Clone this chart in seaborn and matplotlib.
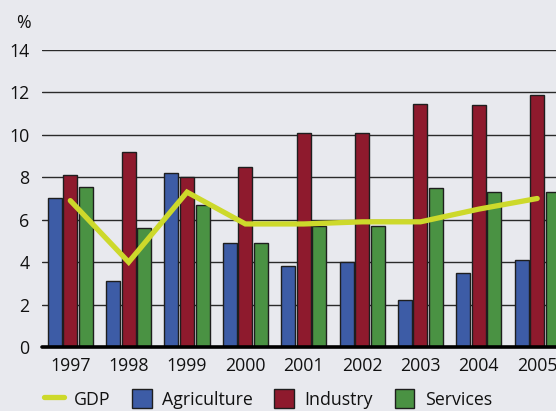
import numpy as np
import pandas as pd
import matplotlib
matplotlib.use("Agg")
import matplotlib.pyplot as plt
import seaborn as sns
from matplotlib.patches import Patch
from matplotlib.lines import Line2D

years = ["1997", "1998", "1999", "2000", "2001", "2002", "2003", "2004", "2005"]
agriculture = [7.0, 3.1, 8.2, 4.9, 3.8, 4.0, 2.2, 3.5, 4.1]
industry = [8.1, 9.2, 8.0, 8.5, 10.1, 10.1, 11.45, 11.4, 11.9]
services = [7.55, 5.6, 6.7, 4.9, 5.7, 5.7, 7.5, 7.3, 7.3]
gdp = [6.9, 4.0, 7.3, 5.8, 5.8, 5.9, 5.9, 6.5, 7.0]
sectors = ["Agriculture", "Industry", "Services"]
yticks = [0, 2, 4, 6, 8, 10, 12, 14]

bg = "#e8e9ee"
colors = {"Agriculture": "#3d5ca6", "Industry": "#8e1a2d", "Services": "#4a9243"}
gdp_color = "#cdd92b"

sns.set_theme(style="white")
plt.rcParams["font.family"] = ["Open Sans", "DejaVu Sans"]

df = pd.DataFrame({
    "year": years * 3,
    "sector": ["Agriculture"] * 9 + ["Industry"] * 9 + ["Services"] * 9,
    "value": agriculture + industry + services,
})

fig = plt.figure(figsize=(5.56, 4.11), dpi=100)
fig.patch.set_facecolor(bg)
ax = fig.add_axes([42 / 556, 64 / 411, 523.5 / 556, 297 / 411])
ax.set_facecolor(bg)

for y in yticks[1:]:
    ax.axhline(y, color="#2a2a2a", lw=1.0, zorder=0)

sns.barplot(data=df, x="year", y="value", hue="sector", order=years,
            hue_order=sectors, palette=colors, saturation=1, width=0.8, gap=0.1,
            edgecolor="#1e1e1e", linewidth=1.0, ax=ax, legend=False, zorder=2)

sns.lineplot(x=np.arange(len(years)), y=gdp, color=gdp_color, lw=3.8,
             ax=ax, zorder=3, solid_capstyle="round", solid_joinstyle="miter")

ax.axhline(0, color="black", lw=2.6, zorder=4, clip_on=False)

ax.set_xlim(-0.485, 8.485)
ax.set_ylim(0, 14)
ax.set_yticks(yticks)
ax.set_xlabel("")
ax.set_ylabel("")
for s in ax.spines.values():
    s.set_visible(False)
ax.tick_params(axis="both", length=0, labelsize=12.8, colors="#111111")
ax.tick_params(axis="y", pad=9)
ax.tick_params(axis="x", pad=7)

fig.text(23 / 556, 1 - 23 / 411, "%", fontsize=12.8, ha="center", va="center",
         color="#111111")

handles = [
    Line2D([0], [0], color=gdp_color, lw=3.8, solid_capstyle="round"),
    Patch(facecolor=colors["Agriculture"], edgecolor="#1e1e1e", lw=1.0),
    Patch(facecolor=colors["Industry"], edgecolor="#1e1e1e", lw=1.0),
    Patch(facecolor=colors["Services"], edgecolor="#1e1e1e", lw=1.0),
]
fig.legend(handles, ["GDP"] + sectors, loc="center", bbox_to_anchor=(268 / 556, 1 - 399 / 411),
           ncol=4, frameon=False, fontsize=12.8, handlelength=1.1, handleheight=1.2,
           handletextpad=0.6, columnspacing=1.2, labelcolor="#111111")

fig.savefig("out.png", dpi=100, facecolor=bg)
